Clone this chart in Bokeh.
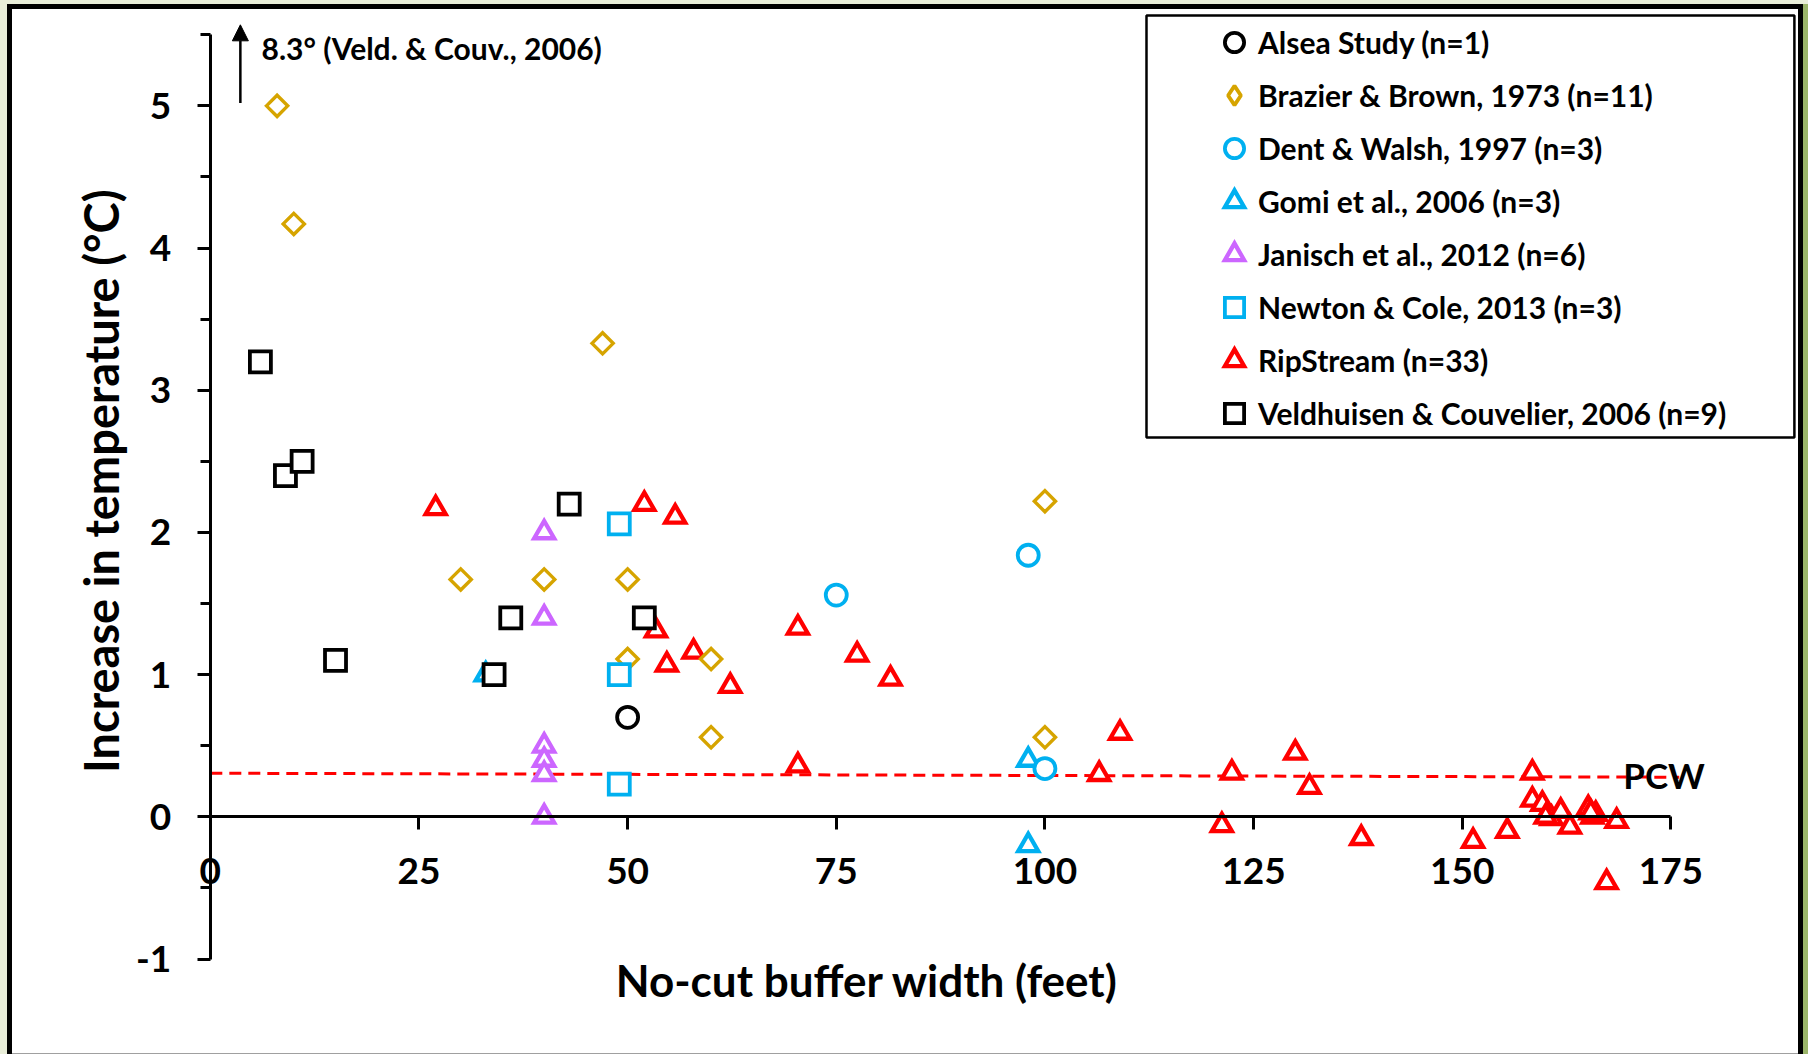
import math
from bokeh.plotting import figure
from bokeh.models import (Range1d, FixedTicker, Label, Arrow, NormalHead, Legend, LegendItem,
                          BoxAnnotation, PrintfTickFormatter)
from bokeh.embed import file_html
from bokeh.resources import INLINE

# ---------------- data ----------------
ALSEA_X = [50]
ALSEA_Y = [0.70]

BRAZIER_X = [8, 10, 47, 30, 40, 50, 50, 60, 60, 100, 100]
BRAZIER_Y = [5.0, 4.17, 3.33, 1.67, 1.67, 1.67, 1.11, 1.11, 0.56, 2.22, 0.56]

DENT_X = [75, 98, 100]
DENT_Y = [1.56, 1.84, 0.34]

GOMI_X = [33, 98, 98]
GOMI_Y = [1.0, 0.4, -0.2]

JANISCH_X = [40, 40, 40, 40, 40, 40]
JANISCH_Y = [2.0, 1.4, 0.5, 0.4, 0.3, 0.0]

NEWTON_X = [49, 49, 49]
NEWTON_Y = [2.06, 1.0, 0.23]

RIP_X = [27, 52, 55.7, 53.4, 54.7, 57.9, 62.3, 70.4, 70.4, 77.5, 81.5, 106.5, 109,
         122.4, 121.2, 130, 131.7, 137.9, 151.3, 155.4, 158.4, 158.4, 159.6, 160.7,
         161.8, 162.9, 165.1, 165.6, 166.0, 168.5, 167.3, 160.0, 165.4]
RIP_Y = [2.17, 2.2, 2.11, 1.31, 1.07, 1.16, 0.92, 1.33, 0.36, 1.14, 0.97, 0.30, 0.59,
         0.31, -0.06, 0.45, 0.21, -0.15, -0.17, -0.10, 0.31, 0.12, 0.09, -0.01,
         0.04, -0.07, 0.06, 0.0, 0.02, -0.03, -0.46, 0.0, 0.03]

VELD_X = [6, 9, 11, 15, 34, 36, 43, 52]
VELD_Y = [3.2, 2.4, 2.5, 1.1, 1.0, 1.4, 2.2, 1.4]

PCW_X = [0, 176]
PCW_Y = [0.307, 0.279]

LABELS = ["Alsea Study (n=1)", "Brazier & Brown, 1973 (n=11)", "Dent & Walsh, 1997 (n=3)",
          "Gomi et al., 2006 (n=3)", "Janisch et al., 2012 (n=6)", "Newton & Cole, 2013 (n=3)",
          "RipStream (n=33)", "Veldhuisen & Couvelier, 2006 (n=9)"]

X_TICKS = [0, 25, 50, 75, 100, 125, 150, 175]
Y_TICKS = [-1, 0, 1, 2, 3, 4, 5]
Y_MINOR = [-0.5, 0.5, 1.5, 2.5, 3.5, 4.5, 5.5]

# ---------------- styles ----------------
GOLD = "#D6A400"
CYAN = "#00B0F0"
PURPLE = "#CC66FF"
RED = "#FF0000"
BLACK = "#000000"
FONT = "Lato"

p = figure(width=1808, height=1054,
           x_range=Range1d(-25.14, 191.49), y_range=Range1d(-1.671, 5.741),
           output_backend="svg", toolbar_location=None)
p.min_border_left = 0
p.min_border_right = 0
p.min_border_top = 0
p.min_border_bottom = 0
p.border_fill_color = None
p.background_fill_color = None
p.outline_line_color = None
p.xgrid.visible = False
p.ygrid.visible = False
p.styles = {
    "background-color": "white",
    "box-shadow": ("inset 7px 4px 0 0 #e9eed9, inset -5px 0 0 0 #9bb56a, "
                   "inset 12px 9px 0 0 #000000, inset -10px 0 0 0 #000000, "
                   "inset 0 -1px 0 0 #a0a0a0"),
}

xa = p.xaxis[0]
xa.fixed_location = 0
xa.bounds = (0, 175)
xa.ticker = FixedTicker(ticks=X_TICKS)
xa.formatter = PrintfTickFormatter(format="%d")
xa.axis_line_width = 3
xa.major_tick_line_width = 3
xa.major_tick_out = 13
xa.major_tick_in = 0
xa.minor_tick_out = 0
xa.minor_tick_in = 0
xa.major_label_standoff = 28
xa.major_label_text_font = FONT
xa.major_label_text_font_style = "bold"
xa.major_label_text_font_size = "37px"
xa.major_label_text_color = BLACK

ya = p.yaxis[0]
ya.fixed_location = 0
ya.bounds = (-1, 5.5)
ya.ticker = FixedTicker(ticks=Y_TICKS, minor_ticks=Y_MINOR)
ya.formatter = PrintfTickFormatter(format="%d")
ya.axis_line_width = 3
ya.major_tick_line_width = 3
ya.minor_tick_line_width = 3
ya.major_tick_out = 13
ya.major_tick_in = 0
ya.minor_tick_out = 10
ya.minor_tick_in = 0
ya.minor_tick_line_color = BLACK
ya.major_label_standoff = 26
ya.major_label_text_font = FONT
ya.major_label_text_font_style = "bold"
ya.major_label_text_font_size = "37px"
ya.major_label_text_color = BLACK

# PCW threshold line
p.line(PCW_X, PCW_Y, line_color=RED, line_width=3, line_dash="12 7")

tri = dict(fill_color="white", line_width=4.3, line_join="miter")
box = dict(fill_color="white", line_width=3.8, line_join="miter")

# legend proxy for the diamond (zero size, hidden under the real markers)
r_braz_leg = p.scatter(BRAZIER_X, BRAZIER_Y, marker="diamond", size=0, line_color=GOLD,
                       fill_color="white", line_width=3.8)

r_rip = p.scatter(RIP_X, RIP_Y, marker="triangle", size=20, line_color=RED, **tri)
r_braz = p.scatter(BRAZIER_X, BRAZIER_Y, marker="square", angle=math.pi / 4, size=15,
                   line_color=GOLD, fill_color="white", line_width=3.4, line_join="miter")
r_gomi = p.scatter(GOMI_X, GOMI_Y, marker="triangle", size=20, line_color=CYAN, **tri)
r_jan = p.scatter(JANISCH_X, JANISCH_Y, marker="triangle", size=20, line_color=PURPLE, **tri)
r_dent = p.scatter(DENT_X, DENT_Y, marker="circle", size=21, line_color=CYAN, **box)
r_newt = p.scatter(NEWTON_X, NEWTON_Y, marker="square", size=21, line_color=CYAN, **box)
r_als = p.scatter(ALSEA_X, ALSEA_Y, marker="circle", size=21, line_color=BLACK, **box)
r_veld = p.scatter(VELD_X, VELD_Y, marker="square", size=21, line_color=BLACK, **box)

# legend frame
p.add_layout(BoxAnnotation(left=112.17, right=189.8, top=5.636, bottom=2.668,
                           fill_color="white", fill_alpha=1, line_color=BLACK,
                           line_width=2.5, line_alpha=1))

legend = Legend(items=[
    LegendItem(label=LABELS[0], renderers=[r_als]),
    LegendItem(label=LABELS[1], renderers=[r_braz_leg]),
    LegendItem(label=LABELS[2], renderers=[r_dent]),
    LegendItem(label=LABELS[3], renderers=[r_gomi]),
    LegendItem(label=LABELS[4], renderers=[r_jan]),
    LegendItem(label=LABELS[5], renderers=[r_newt]),
    LegendItem(label=LABELS[6], renderers=[r_rip]),
    LegendItem(label=LABELS[7], renderers=[r_veld]),
])
legend.location = (1210, 617)
legend.margin = 0
legend.padding = 0
legend.spacing = 5
legend.glyph_height = 48
legend.glyph_width = 48
legend.label_standoff = 0
legend.label_height = 48
legend.border_line_color = None
legend.background_fill_alpha = 0
legend.label_text_font = FONT
legend.label_text_font_style = "bold"
legend.label_text_font_size = "30px"
legend.label_text_color = BLACK
p.add_layout(legend)

# annotations
p.add_layout(Arrow(end=NormalHead(size=16, fill_color=BLACK, line_color=BLACK, line_width=1),
                   x_start=3.6, y_start=5.02, x_end=3.6, y_end=5.57,
                   line_color=BLACK, line_width=2.5))
p.add_layout(Label(x=6.13, y=5.407, text="8.3° (Veld. & Couv., 2006)", text_font=FONT,
                   text_font_style="bold", text_font_size="30px", text_color=BLACK,
                   text_align="left", text_baseline="middle"))
p.add_layout(Label(x=169.3, y=0.298, text="PCW", text_font=FONT, text_font_style="bold",
                   text_font_size="35px", text_color=BLACK, text_align="left",
                   text_baseline="alphabetic"))
p.add_layout(Label(x=78.7, y=-1.15, text="No-cut buffer width (feet)", text_font=FONT,
                   text_font_style="bold", text_font_size="44px", text_color=BLACK,
                   text_align="center", text_baseline="middle"))
p.add_layout(Label(x=-13.1, y=2.36, text="Increase in temperature (°C)", text_font=FONT,
                   text_font_style="bold", text_font_size="47px", text_color=BLACK,
                   text_align="center", text_baseline="middle", angle=math.pi / 2))

open("out.html", "w").write(file_html(p, INLINE))
